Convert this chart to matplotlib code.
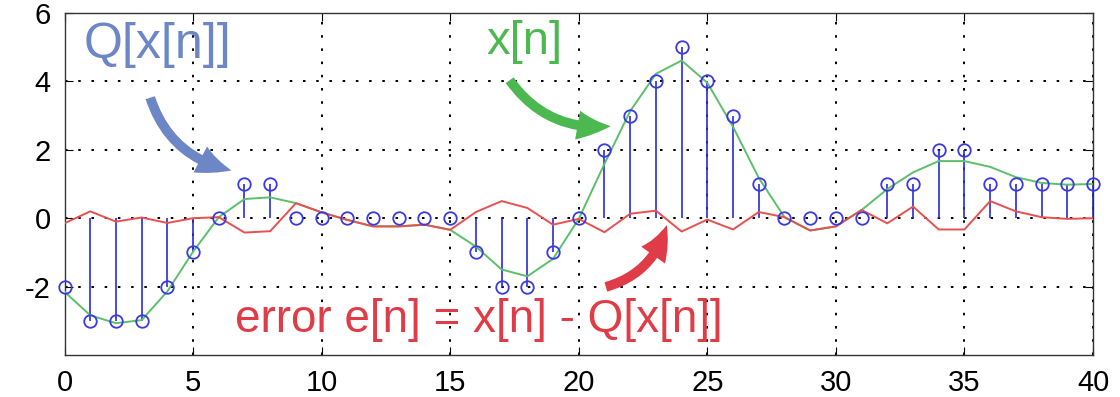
import numpy as np
import matplotlib
matplotlib.use("Agg")
import matplotlib.pyplot as plt
from matplotlib.patches import FancyArrowPatch

# -- Data --
n = np.arange(0, 41)
q_vals = [-2, -3, -3, -3, -2, -1, 0, 1, 1, 0,
          0, 0, 0, 0, 0, 0, -1, -2, -2, -1,
          0, 2, 3, 4, 5, 4, 3, 1, 0, 0,
          0, 0, 1, 1, 2, 2, 1, 1, 1, 1, 1]
x_vals = [-2.15, -2.84, -3.07, -2.98, -2.14, -0.98, 0.03, 0.56, 0.61, 0.44,
          0.17, -0.05, -0.24, -0.24, -0.19, -0.34, -0.83, -1.5, -1.7, -1.19,
          -0.02, 1.59, 3.13, 4.22, 4.61, 3.96, 2.67, 1.18, 0.03, -0.36,
          -0.24, 0.24, 0.85, 1.34, 1.67, 1.67, 1.5, 1.2, 1.03, 0.98, 1.0]
e_vals = [-0.15, 0.2, -0.1, 0.02, -0.14, 0.0, 0.03, -0.42, -0.38, 0.44,
          0.17, -0.05, -0.24, -0.24, -0.19, -0.34, 0.18, 0.5, 0.3, -0.19,
          -0.02, -0.41, 0.13, 0.22, -0.39, -0.04, -0.33, 0.18, 0.03, -0.36,
          -0.24, 0.24, -0.15, 0.34, -0.33, -0.33, 0.5, 0.2, 0.03, -0.02, 0.0]
xtick_vals = [0, 5, 10, 15, 20, 25, 30, 35, 40]
ytick_vals = [-2, 0, 2, 4, 6]

c_q = "#6c86c6"
c_x = "#4cb850"
c_e = "#e03c48"

plt.rcParams['font.family'] = ['Liberation Sans', 'DejaVu Sans']
plt.rcParams['axes.unicode_minus'] = False

fig = plt.figure(figsize=(11.2, 3.97), dpi=100)
ax = fig.add_axes([0.0576, 0.1058, 0.9183, 0.8615])

# -- stems --
ax.vlines(n, 0, q_vals, color="#2b2bd8", lw=1.2, zorder=2)
ax.plot(n, q_vals, 'o', mfc='none', mec="#3a3ae0", ms=9, mew=1.3, zorder=4, clip_on=False)

# -- signal and error --
ax.plot(n, x_vals, '-', color="#5cbf6a", lw=1.4, zorder=3)
ax.plot(n, e_vals, '-', color="#e85050", lw=1.4, zorder=3)

ax.set_xlim(0, 40)
ax.set_ylim(-4, 6)
ax.set_xticks(xtick_vals)
ax.set_yticks(ytick_vals)
ax.tick_params(direction='in', length=6, top=True, right=True, labelsize=21, pad=10)
ax.grid(True, color='black', linestyle=(0, (1.3, 5.5)), lw=1.4)
for s in ax.spines.values():
    s.set_color('#333333')
    s.set_linewidth(1.0)

# -- annotations --
ax.text(3.6, 5.05, "Q[x[n]]", color=c_q, fontsize=36, ha='center', va='center')
ax.text(17.9, 5.14, "x[n]", color=c_x, fontsize=34, ha='center', va='center')
ax.text(16.1, -2.99, "error e[n] = x[n] - Q[x[n]]", color=c_e, fontsize=33,
        ha='center', va='center')

arrow_kw = dict(arrowstyle="simple,head_width=1.5,head_length=1.7,tail_width=0.5",
                mutation_scale=14, lw=0, zorder=5)
ax.add_patch(FancyArrowPatch((3.3, 3.6), (6.6, 1.38), connectionstyle="arc3,rad=0.3",
                             color=c_q, **arrow_kw))
ax.add_patch(FancyArrowPatch((17.25, 4.1), (21.35, 2.7), connectionstyle="arc3,rad=0.3",
                             color=c_x, **arrow_kw))
ax.add_patch(FancyArrowPatch((20.95, -2.03), (23.45, -0.12), connectionstyle="arc3,rad=0.3",
                             color=c_e, **arrow_kw))

fig.savefig("out.png", dpi=100)
